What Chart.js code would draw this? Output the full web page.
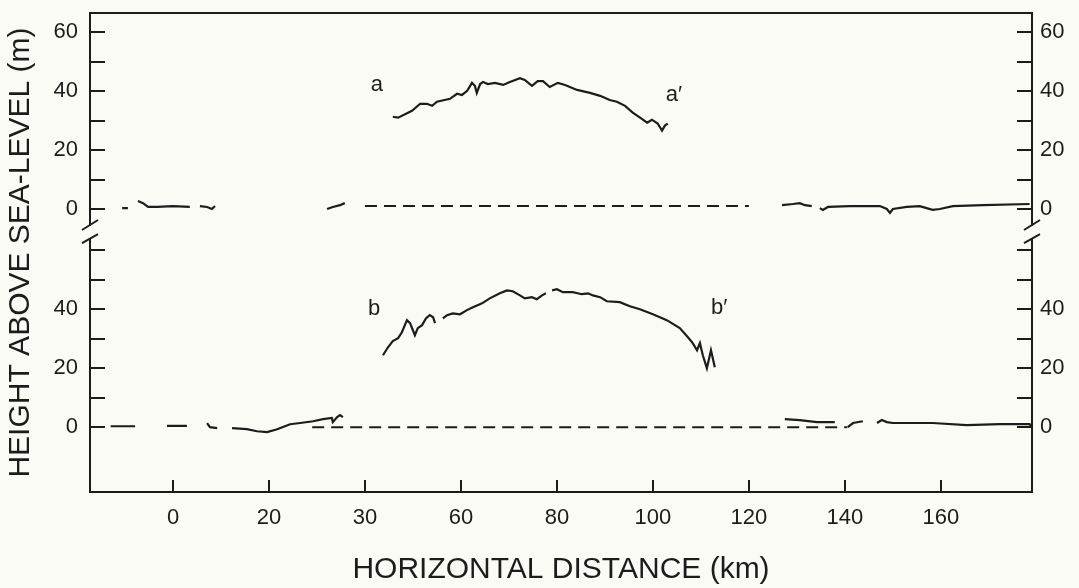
<!DOCTYPE html>
<html lang="en">
<head>
  <meta charset="UTF-8" />
  <title>Height above sea-level profiles</title>
  <script src="https://cdn.jsdelivr.net/npm/chart.js"></script>
  <style>
    html, body { margin: 0; padding: 0; background: #fbfbf6; }
  </style>
</head>
<body>
  <canvas id="profileChart" width="1079" height="588"></canvas>

  <script>
    // axis ticks (the original figure prints "30" under the 40 km tick)
    const xTickVals = [0, 20, 40, 60, 80, 100, 120, 140, 160];
    const xTickLabels = ['0', '20', '30', '60', '80', '100', '120', '140', '160'];
    const yTickVals = [0, 10, 20, 30, 40, 50, 60];
    const botTickLabels = ['0', '', '20', '', '40', '', ''];
    const topTickLabels = ['0', '', '20', '', '40', '', '60'];

    // upper panel (profile a - a'), km / m, null = gap in the trace
    const topLeftKm = [-10.6, -9.4, null, -7.3, -6.25, -5.2, -3.3, 0, 3.5, null, 5.6, 7.1, 8.1, 8.75, null, 32.1, 33.3, 34.8, 35.8];
    const topLeftH  = [0.3, 0.3, null, 2.7, 2.0, 0.7, 0.7, 1.0, 0.7, null, 1.0, 0.7, 0, 1.0, null, 0, 0.7, 1.3, 2.0];
    const topRightKm = [126.9, 129.2, 130.6, 131.7, 133.1, null, 134.8, 135.4, 136.5, 141.0, 147.3, 148.75, 149.4, 150.0, 152.9, 155.6, 158.3, 159.8, 162.5, 168.75, 178.5];
    const topRightH  = [1.3, 1.7, 2.0, 1.3, 1.0, null, 0.3, -0.3, 0.7, 1.0, 1.0, 0, -1.3, 0, 0.7, 1.0, -0.3, 0, 1.0, 1.3, 1.7];
    const aKm = [45.8, 46.9, 49.8, 51.5, 52.9, 54.0, 55.0, 57.7, 59.2, 60.2, 61.3, 62.3, 62.9, 63.3, 64.0, 64.6, 65.6, 67.1, 68.8, 70.2,
                 72.3, 73.3, 74.8, 76.0, 77.1, 78.5, 80.2, 81.7, 84.2, 86.9, 89.0, 91.0, 92.5, 94.2, 95.8, 97.7, 98.8, 99.8, 101.0, 101.9, 102.5, 103.1];
    const aH  = [31.3, 31.0, 33.3, 35.7, 35.7, 35.0, 36.4, 37.4, 39.1, 38.7, 40.1, 42.8, 41.8, 39.4, 42.4, 43.1, 42.4, 42.8, 42.1, 43.1,
                 44.4, 43.8, 41.8, 43.4, 43.4, 41.4, 42.8, 42.1, 40.4, 39.4, 38.4, 37.0, 36.4, 35.0, 32.7, 30.6, 29.3, 30.3, 29.0, 26.6, 28.3, 29.0];
    const topDashKm = [40, 120];
    const topDashH  = [1, 1];

    // lower panel (profile b - b')
    const botLeftKm = [-13, -7.9, null, -1.25, 2.9, null, 7.1, 7.7, 9.2, null,
                       12.3, 15.4, 17.5, 19.6, 21.7, 24.4, 26.5, 29.2, 31.25, 33.1, 33.3, 34.2, 34.8, 35.4];
    const botLeftH  = [0.3, 0.3, null, 0.4, 0.4, null, 1.4, 0, -0.3, null,
                       -0.3, -0.7, -1.4, -1.7, -0.7, 1.0, 1.4, 2.0, 2.7, 3.1, 1.7, 3.4, 4.1, 3.4];
    const botRightKm = [127.5, 130.6, 134.2, 137.9, null, 140.6, 141.7, 143.75, null,
                        146.7, 147.7, 148.75, 150, 158.3, 165.4, 172.3, 178.5, 179];
    const botRightH  = [2.7, 2.4, 1.7, 1.7, null, 0, 1.4, 2.0, null,
                        1.4, 2.4, 1.7, 1.4, 1.4, 0.7, 1.0, 1.0, -0.3];
    const bKm = [43.75, 44.8, 45.8, 46.9, 47.7, 48.75, 49.4, 50.4, 51.0, 51.9, 52.7, 53.5, 54.2, 54.6, null,
                 56.25, 57.1, 58.3, 59.8, 61.25, 62.5, 64.4, 66.0, 68.1, 69.6, 70.8, 72.3, 73.3, 74.8, 75.8, 76.9, 77.7, null,
                 79.0, 80.0, 81.25, 83.3, 85.2, 86.5, 87.5, 89.0, 90.4, 93.1, 95.2, 97.3, 100.0, 102.9, 105.6, 107.3, 108.3,
                 109.2, 109.8, 110.4, 111.25, 112.1, 112.9];
    const bH  = [24.4, 27.1, 29.2, 30.2, 32.2, 36.3, 35.3, 31.2, 33.6, 34.6, 36.9, 38.0, 37.3, 35.3, null,
                 36.9, 38.0, 38.6, 38.3, 39.7, 40.7, 42.0, 43.7, 45.4, 46.4, 46.1, 44.7, 43.7, 44.1, 43.4, 44.7, 45.4, null,
                 46.4, 46.8, 45.8, 45.8, 45.1, 45.4, 44.7, 44.1, 42.7, 42.4, 41.0, 40.0, 38.3, 36.3, 33.6, 30.5, 28.5,
                 26.1, 28.5, 24.4, 20.0, 26.1, 20.3];
    const botDashKm = [29, 140.5];
    const botDashH  = [0, 0];

    // profile labels
    const labelText = ['a', 'a\u2032', 'b', 'b\u2032'];
    const labelKm = [42.5, 104.4, 41.9, 113.8];
    const labelH = [42, 38.8, 40.2, 40.6];
    const labelPanel = ['top', 'top', 'bot', 'bot'];

    const X_MIN = -17.3, X_MAX = 179;
    const BOT_MIN = -22, BOT_MAX = 140.5;
    const TOP_SHIFT = 74;     // lower-panel height at which the upper panel's 0 sits
    const BREAK_AT = 66.2;    // axis break, lower-panel units
    const INK = '#1c1c1c';
    const BG = '#fbfbf6';
    const FONT = "'Liberation Sans', Arial, sans-serif";

    function pts(km, h) {
      return km.map((x, i) => ({ x: x, y: h[i] }));
    }

    function trace(km, h, axis, dashed) {
      return {
        data: pts(km, h),
        yAxisID: axis,
        borderColor: INK,
        borderWidth: dashed ? 2 : 2.2,
        borderDash: dashed ? [12, 7] : [],
        pointRadius: 0,
        tension: 0,
        spanGaps: false,
        fill: false,
      };
    }

    const sideTicks = () => yTickVals.map(v => ({ value: v }))
      .concat(yTickVals.map(v => ({ value: v + TOP_SHIFT })));
    const sideLabel = (v, i) => i < yTickVals.length ? botTickLabels[i] : topTickLabels[i - yTickVals.length];

    const sideAxis = (pos, width, pad) => ({
      type: 'linear',
      position: pos,
      min: BOT_MIN,
      max: BOT_MAX,
      afterBuildTicks: s => { s.ticks = sideTicks(); },
      // fixed width, and no extra room reserved above/below for the labels
      afterFit: s => { s.width = width; s.paddingTop = 0; s.paddingBottom = 0; },
      ticks: {
        autoSkip: false,
        padding: pad,
        color: INK,
        font: { family: FONT, size: 22 },
        callback: sideLabel,
      },
      grid: { drawOnChartArea: false, drawTicks: true, tickLength: -15, color: INK, lineWidth: 2 },
      border: { display: true, color: INK, width: 2 },
    });

    const background = {
      id: 'background',
      beforeDraw(chart) {
        const ctx = chart.ctx;
        ctx.save();
        ctx.fillStyle = BG;
        ctx.fillRect(0, 0, chart.width, chart.height);
        ctx.restore();
      }
    };

    const axisBreak = {
      id: 'axisBreak',
      afterDraw(chart) {
        const { ctx, chartArea } = chart;
        const yb = chart.scales.y.getPixelForValue(BREAK_AT);
        [chartArea.left, chartArea.right].forEach(x0 => {
          ctx.save();
          ctx.fillStyle = BG;
          ctx.fillRect(x0 - 4, yb - 6, 8, 12);
          ctx.strokeStyle = INK;
          ctx.lineWidth = 2;
          ctx.beginPath();
          ctx.moveTo(x0 - 8, yb - 2); ctx.lineTo(x0 + 8, yb - 12);
          ctx.moveTo(x0 - 8, yb + 11); ctx.lineTo(x0 + 8, yb + 2);
          ctx.stroke();
          ctx.restore();
        });
      }
    };

    const profileLabels = {
      id: 'profileLabels',
      afterDatasetsDraw(chart) {
        const ctx = chart.ctx;
        ctx.save();
        ctx.fillStyle = INK;
        ctx.font = '22px ' + FONT;
        ctx.textAlign = 'center';
        ctx.textBaseline = 'middle';
        labelText.forEach((t, i) => {
          const ys = labelPanel[i] === 'top' ? chart.scales.yTop : chart.scales.y;
          ctx.fillText(t, chart.scales.x.getPixelForValue(labelKm[i]), ys.getPixelForValue(labelH[i]));
        });
        ctx.restore();
      }
    };

    new Chart(document.getElementById('profileChart'), {
      type: 'line',
      data: {
        datasets: [
          trace(topLeftKm, topLeftH, 'yTop'),
          trace(topRightKm, topRightH, 'yTop'),
          trace(aKm, aH, 'yTop'),
          trace(topDashKm, topDashH, 'yTop', true),
          trace(botLeftKm, botLeftH, 'y'),
          trace(botRightKm, botRightH, 'y'),
          trace(bKm, bH, 'y'),
          trace(botDashKm, botDashH, 'y', true),
        ],
      },
      options: {
        responsive: false,
        animation: false,
        layout: { padding: 0 },
        plugins: { legend: { display: false }, tooltip: { enabled: false } },
        scales: {
          x: {
            type: 'linear',
            position: 'bottom',
            min: X_MIN,
            max: X_MAX,
            afterBuildTicks: s => { s.ticks = xTickVals.map(v => ({ value: v })); },
            afterFit: s => { s.height = 96; s.paddingLeft = 0; s.paddingRight = 0; },
            ticks: {
              autoSkip: false,
              maxRotation: 0,
              padding: 25,
              color: INK,
              font: { family: FONT, size: 22 },
              callback: (v, i) => xTickLabels[i],
            },
            grid: { drawOnChartArea: false, drawTicks: true, tickLength: -12, color: INK, lineWidth: 2 },
            border: { display: true, color: INK, width: 2 },
            title: {
              display: true,
              text: 'HORIZONTAL DISTANCE (km)',
              color: INK,
              font: { family: FONT, size: 30 },
              padding: { top: 0, bottom: 0 },
            },
          },
          xTop: {
            type: 'linear',
            position: 'top',
            min: X_MIN,
            max: X_MAX,
            afterFit: s => { s.height = 13; s.paddingLeft = 0; s.paddingRight = 0; },
            ticks: { display: false },
            grid: { drawOnChartArea: false, drawTicks: false },
            border: { display: true, color: INK, width: 2 },
          },
          y: Object.assign(sideAxis('left', 90, 27), {
            title: {
              display: true,
              text: 'HEIGHT ABOVE SEA-LEVEL (m)',
              color: INK,
              font: { family: FONT, size: 30 },
              padding: { top: 3, bottom: 0 },
            },
          }),
          yRight: sideAxis('right', 47, 23),
          yTop: {
            type: 'linear',
            display: false,
            min: BOT_MIN - TOP_SHIFT,
            max: BOT_MAX - TOP_SHIFT,
          },
        },
      },
      plugins: [background, axisBreak, profileLabels],
    });
  </script>
</body>
</html>
